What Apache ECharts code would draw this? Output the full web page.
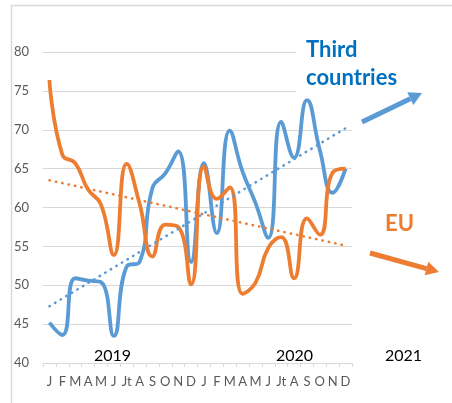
<!DOCTYPE html>
<html>
<head>
<meta charset="utf-8">
<script src="https://cdn.jsdelivr.net/npm/echarts@6/dist/echarts.min.js"></script>
<style>
  html, body { margin: 0; padding: 0; background: #fff; }
  #chart { width: 452px; height: 403px; }
</style>
</head>
<body>
<div id="chart"></div>
<script>
// month labels, Jan 2019 .. Dec 2020
const months = ['J', 'F', 'M', 'A', 'M', 'J', 'Jt', 'A', 'S', 'O', 'N', 'D',
  'J', 'F', 'M', 'A', 'M', 'J', 'Jt', 'A', 'S', 'O', 'N', 'D'];

// Third countries (blue)
const thirdCountries = [45.2, 43.6, 50.9, 50.6, 50.4, 43.5, 52.4, 53.0, 62.5, 64.4, 67.2, 53.0,
  65.7, 56.7, 69.9, 64.6, 60.6, 56.1, 71.0, 66.4, 73.8, 67.4, 61.9, 65.0];

// EU (orange)
const eu = [76.4, 66.8, 65.7, 62.3, 60.4, 53.9, 65.6, 60.5, 53.7, 57.8, 57.5, 50.1,
  65.3, 61.1, 62.6, 48.9, 50.3, 54.8, 56.2, 50.9, 58.6, 56.5, 64.5, 65.0];

// trend lines, value at first and last month
const thirdTrend = [47.3, 70.2];
const euTrend = [63.5, 55.1];

const years = ['2019', '2020', '2021'];
const yTicks = { min: 40, max: 80, interval: 5 };

const BLUE = '#5B9BD5';
const ORANGE = '#ED7D31';
const FONT = 'Lato, "Liberation Sans", sans-serif';

const chart = echarts.init(document.getElementById('chart'));

// arrow drawn as line + triangular head
const arrow = (x1, y1, x2, y2, color) => {
  const ang = Math.atan2(y2 - y1, x2 - x1);
  const headLen = 13;
  const headW = 7;
  const bx = x2 - headLen * Math.cos(ang);
  const by = y2 - headLen * Math.sin(ang);
  const nx = -Math.sin(ang);
  const ny = Math.cos(ang);
  return [
    {
      type: 'line',
      z: 20,
      shape: { x1: x1, y1: y1, x2: bx, y2: by },
      style: { stroke: color, lineWidth: 5 }
    },
    {
      type: 'polygon',
      z: 20,
      shape: { points: [[x2, y2], [bx + nx * headW, by + ny * headW], [bx - nx * headW, by - ny * headW]] },
      style: { fill: color }
    }
  ];
};

const lastIdx = months.length - 1;

const option = {
  animation: false,
  grid: { left: 43, right: 100, top: 52, bottom: 40, containLabel: false },
  xAxis: {
    type: 'category',
    data: months,
    boundaryGap: true,
    axisLine: { lineStyle: { color: '#d9d9d9', width: 1 } },
    axisTick: { show: true, length: 4, lineStyle: { color: '#d9d9d9' } },
    axisLabel: { interval: 0, color: '#595959', fontSize: 13, fontFamily: FONT, margin: 12 }
  },
  yAxis: {
    type: 'value',
    min: yTicks.min,
    max: yTicks.max,
    interval: yTicks.interval,
    axisLine: { show: false },
    axisTick: { show: false },
    axisLabel: { color: '#595959', fontSize: 13, fontFamily: FONT, margin: 14 },
    splitLine: { lineStyle: { color: '#d9d9d9', width: 1 } }
  },
  series: [
    {
      name: 'Third countries',
      type: 'line',
      data: thirdCountries,
      smooth: 0.5,
      symbol: 'none',
      lineStyle: { color: BLUE, width: 3.8 },
      z: 3
    },
    {
      name: 'EU',
      type: 'line',
      data: eu,
      smooth: 0.5,
      symbol: 'none',
      lineStyle: { color: ORANGE, width: 3.8 },
      z: 4
    },
    {
      name: 'Third trend',
      type: 'line',
      data: [[0, thirdTrend[0]], [lastIdx, thirdTrend[1]]],
      symbol: 'none',
      lineStyle: { color: BLUE, width: 2.5, type: [0.5, 6], cap: 'round' },
      z: 5
    },
    {
      name: 'EU trend',
      type: 'line',
      data: [[0, euTrend[0]], [lastIdx, euTrend[1]]],
      symbol: 'none',
      lineStyle: { color: ORANGE, width: 2.5, type: [0.5, 6], cap: 'round' },
      z: 5
    }
  ],
  graphic: [
    // chart frame
    {
      type: 'rect',
      z: 1,
      shape: { x: 11.5, y: 5.5, width: 460, height: 420 },
      style: { fill: null, stroke: '#d9d9d9', lineWidth: 1.5 }
    },
    // white box behind "Third countries"
    {
      type: 'rect',
      z: 10,
      shape: { x: 296, y: 34, width: 126, height: 58 },
      style: { fill: '#fff' }
    },
    {
      type: 'text',
      z: 11,
      left: 306,
      top: 36,
      style: {
        text: 'Third\ncountries',
        fill: '#0070C0',
        font: 'bold 22px ' + FONT,
        lineHeight: 28
      }
    },
    {
      type: 'text',
      z: 11,
      left: 385,
      top: 213,
      style: { text: 'EU', fill: ORANGE, font: 'bold 22px ' + FONT }
    },
    {
      type: 'text', z: 11, left: 94, top: 348,
      style: { text: years[0], fill: '#000', font: '16px ' + FONT }
    },
    {
      type: 'text', z: 11, left: 276, top: 348,
      style: { text: years[1], fill: '#000', font: '16px ' + FONT }
    },
    {
      type: 'text', z: 11, left: 385, top: 348,
      style: { text: years[2], fill: '#000', font: '16px ' + FONT }
    }
  ]
    .concat(arrow(362, 122, 422, 93, BLUE))
    .concat(arrow(370, 253, 439, 272, ORANGE))
};

chart.setOption(option);
window.addEventListener('resize', () => chart.resize());
</script>
</body>
</html>
